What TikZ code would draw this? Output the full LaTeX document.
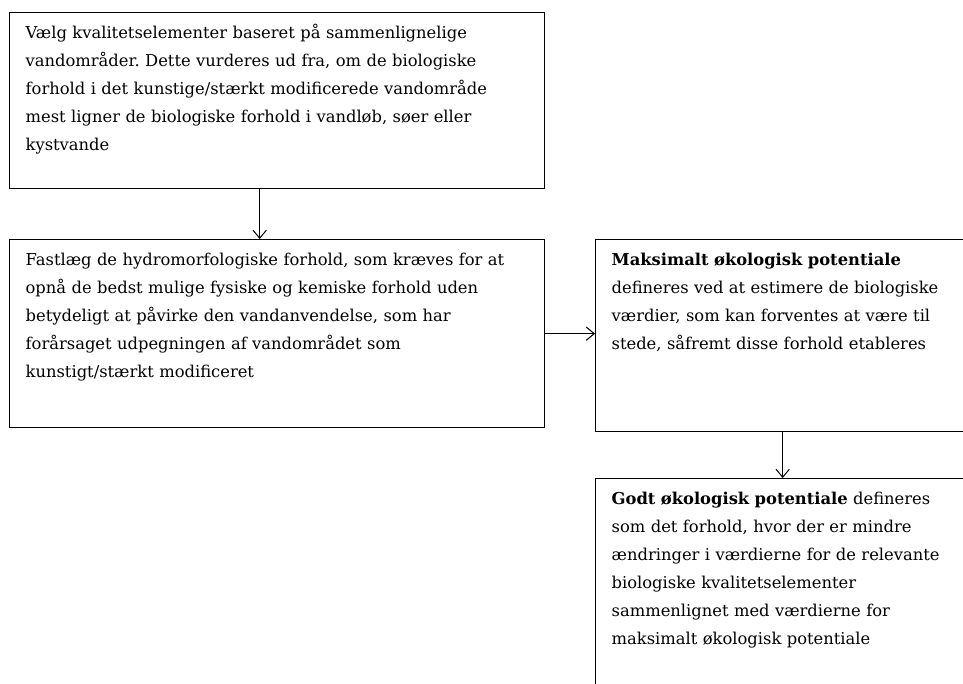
\documentclass[tikz,border=0pt]{standalone}
\usepackage{fontspec}
\setmainfont{DejaVu Serif}
\usetikzlibrary{arrows.meta,positioning,calc}
\frenchspacing

\begin{document}
\begin{tikzpicture}[
    x=0.75pt, y=-0.75pt,
    box/.style={rectangle, draw, line width=1pt, anchor=north west, align=left, inner xsep=12pt, inner ysep=6pt, text height=13.5pt, font=\fontsize{12.25}{21}\selectfont},
    arrow/.style={-{Straight Barb[length=6pt,width=10pt]}, line width=0.75pt}
]
    \useasboundingbox (0,0) rectangle (963,684);
    \clip (0,0) rectangle (963,684);

    % boxes - left column
    \node[box, text width=377.25pt, text depth=106.5pt] (valg) at (9,12) {Vælg kvalitetselementer baseret på sammenlignelige\\vandområder. Dette vurderes ud fra, om de biologiske\\forhold i det kunstige/stærkt modificerede vandområde\\mest ligner de biologiske forhold i vandløb, søer eller\\kystvande};
    \node[box, text width=377.25pt, text depth=115.5pt] (hydro) at (9,239) {Fastlæg de hydromorfologiske forhold, som kræves for at\\opnå de bedst mulige fysiske og kemiske forhold uden\\betydeligt at påvirke den vandanvendelse, som har\\forårsaget udpegningen af vandområdet som\\kunstigt/stærkt modificeret};

    % boxes - right column
    \node[box, text width=256.5pt, text depth=118.5pt] (maks) at (595,239) {\textbf{Maksimalt økologisk potentiale}\\defineres ved at estimere de biologiske\\værdier, som kan forventes at være til\\stede, såfremt disse forhold etableres};
    \node[box, text width=256.5pt, text depth=147pt] (godt) at (595,478) {\textbf{Godt økologisk potentiale} defineres\\som det forhold, hvor der er mindre\\ændringer i værdierne for de relevante\\biologiske kvalitetselementer\\sammenlignet med værdierne for\\maksimalt økologisk potentiale};

    % arrows
    \draw[arrow] ([xshift=-13.1pt]valg.south) -- ([xshift=-13.1pt]hydro.north);
    \draw[arrow] (hydro.east) -- (hydro.east -| maks.west);
    \draw[arrow] (maks.south) -- (godt.north);
\end{tikzpicture}
\end{document}
